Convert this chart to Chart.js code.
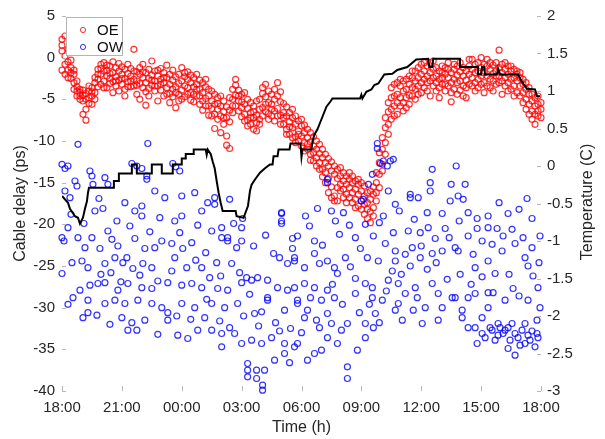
<!DOCTYPE html>
<html>
<head>
<meta charset="utf-8">
<script src="https://cdn.jsdelivr.net/npm/chart.js@4.4.0/dist/chart.umd.min.js"></script>
<style>
  html, body { margin: 0; padding: 0; background: #fff; }
</style>
</head>
<body>
<canvas id="chart" width="605" height="439"></canvas>
<script>
// x axis: hours since 18:00
const timeLabels = ['18:00', '21:00', '00:00', '03:00', '06:00', '09:00', '12:00', '15:00', '18:00'];

// OE cable delay (ps): sample times and the values read at each time
const oeTime = [0.00, 0.15, 0.30, 0.45, 0.60, 0.75, 0.90, 1.05, 1.20, 1.35, 1.50, 1.65, 1.80, 1.95,
  2.10, 2.25, 2.40, 2.55, 2.70, 2.85, 3.00, 3.15, 3.30, 3.45, 3.60, 3.75, 3.90, 4.05, 4.20, 4.35,
  4.50, 4.65, 4.80, 4.95, 5.10, 5.25, 5.40, 5.55, 5.70, 5.85, 6.00, 6.15, 6.30, 6.45, 6.60, 6.75,
  6.90, 7.05, 7.20, 7.35, 7.50, 7.65, 7.80, 7.95, 8.10, 8.25, 8.40, 8.55, 8.70, 8.85, 9.00, 9.15,
  9.30, 9.45, 9.60, 9.75, 9.90, 10.05, 10.20, 10.35, 10.50, 10.65, 10.80, 10.95, 11.10, 11.25,
  11.40, 11.55, 11.70, 11.85, 12.00, 12.15, 12.30, 12.45, 12.60, 12.75, 12.90, 13.05, 13.20, 13.35,
  13.50, 13.65, 13.80, 13.95, 14.10, 14.25, 14.40, 14.55, 14.70, 14.85, 15.00, 15.15, 15.30, 15.45,
  15.60, 15.75, 15.90, 16.05, 16.20, 16.35, 16.50, 16.65, 16.80, 16.95, 17.10, 17.25, 17.40, 17.55,
  17.70, 17.85, 18.00, 18.15, 18.30, 18.45, 18.60, 18.75, 18.90, 19.05, 19.20, 19.35, 19.50, 19.65,
  19.80, 19.95, 20.10, 20.25, 20.40, 20.55, 20.70, 20.85, 21.00, 21.15, 21.30, 21.45, 21.60, 21.75,
  21.90, 22.05, 22.20, 22.35, 22.50, 22.65, 22.80, 22.95, 23.10, 23.25, 23.40, 23.55, 23.70, 23.85, 24.00];
const oeDelay = [
  [2.2, 0.8, -1.5, 1.5], [2.6, 0.2, -0.8, -2.0], [1.0, -0.5, -1.5, -2.4], [-1.2, -2.5, -0.3, -1.8],
  [-2.0, -3.0, -1.5, -3.8], [-4.0, -3.5, -4.6, -2.8], [-4.2, -5.0, -3.8, -4.6], [-4.5, -6.8, -5.2, -3.9],
  [-7.5, -6.2, -4.3, -5.0], [-4.0, -5.5, -4.8, -3.4], [-3.6, -4.6, -5.6, -4.1], [-3.0, -4.2, -2.4, -5.0],
  [-1.4, -2.6, -3.5, -2.0], [-0.8, -2.0, -3.2, -1.3], [-1.6, -2.8, -0.6, -3.6], [-2.2, -0.9, -3.6, -1.5],
  [-1.0, -2.5, -3.1, -1.9], [-1.8, -0.5, -2.9, -4.2], [-2.3, -1.2, -3.4, -2.8], [-1.6, -2.7, -0.7, -4.0],
  [-2.0, -3.2, -1.1, -2.5], [-2.5, -1.4, -3.8, -4.6], [-1.9, -0.8, -2.9, -3.5], [-2.2, -3.5, -1.3, -2.8],
  [-1.6, 1.0, -2.6, -3.4], [-2.8, -1.7, -4.4, -3.3], [-2.0, -3.1, -5.0, -1.2], [-2.4, -3.6, -0.8, -1.7],
  [-3.0, -1.8, -5.7, -4.1], [-2.5, -3.7, -1.4, -4.6], [-2.1, -0.4, -3.3, -2.7], [-2.8, -4.0, -1.6, -3.4],
  [-3.4, -2.2, -5.2, -1.5], [-2.6, -1.3, -3.9, -3.2], [-1.8, -3.0, -4.6, -2.4], [-2.4, -0.9, -3.6, -4.4],
  [-3.2, -2.0, -5.4, -4.3], [-2.7, -1.5, -3.8, -4.7], [-3.5, -2.3, -6.0, -4.2], [-2.0, -3.1, -4.4, -5.2],
  [-2.8, -1.2, -3.9, -5.0], [-2.3, -3.4, -4.7, -1.8], [-2.6, -1.7, -3.6, -4.4], [-3.0, -2.1, -4.2, -5.1],
  [-2.4, -3.5, -5.3, -4.4], [-3.2, -2.0, -4.6, -3.8], [-3.8, -2.7, -5.6, -4.6], [-4.2, -3.0, -6.3, -5.2],
  [-3.5, -4.9, -2.6, -5.8], [-4.6, -5.8, -3.8, -6.9], [-5.2, -4.0, -7.0, -6.1], [-5.6, -6.8, -4.4, -8.5],
  [-4.8, -6.2, -7.4, -5.5], [-5.8, -7.0, -4.6, -9.0], [-6.5, -5.2, -8.0, -7.2], [-5.9, -7.2, -10.5, -9.4],
  [-6.3, -4.8, -7.7, -10.9], [-5.0, -6.6, -3.8, -5.8], [-3.3, -4.5, -5.8, -2.6], [-3.9, -5.2, -6.4, -4.6],
  [-4.4, -6.0, -7.1, -5.3], [-5.6, -6.8, -4.2, -7.6], [-6.1, -5.0, -7.5, -8.2], [-6.6, -8.0, -5.4, -7.2],
  [-5.8, -7.2, -6.5, -8.6], [-6.9, -5.2, -7.8, -8.8], [-5.0, -7.4, -6.2, -8.0], [-4.3, -6.0, -3.6, -7.0],
  [-3.2, -4.7, -5.6, -6.5], [-4.0, -5.4, -6.7, -7.4], [-5.6, -4.4, -7.0, -6.2], [-5.0, -6.4, -3.8, -7.6],
  [-3.0, -4.6, -6.1, -7.0], [-5.3, -6.9, -4.1, -8.0], [-6.6, -5.5, -8.0, -7.2], [-7.0, -5.9, -8.6, -9.2],
  [-6.6, -7.7, -9.2, -8.3], [-7.2, -8.4, -6.2, -9.6], [-8.0, -7.0, -9.5, -10.2], [-7.6, -8.8, -10.0, -9.2],
  [-8.2, -9.4, -7.4, -10.6], [-9.0, -10.2, -8.1, -11.2], [-9.6, -8.6, -11.0, -10.4], [-10.1, -9.0, -11.6, -12.3],
  [-10.6, -9.5, -11.4, -12.4], [-11.0, -10.0, -12.0, -13.0], [-11.5, -12.6, -10.4, -13.4], [-12.0, -11.0, -13.4, -14.3],
  [-12.6, -13.8, -11.6, -15.0], [-13.0, -14.5, -12.1, -16.2], [-13.6, -15.5, -12.5, -16.8], [-14.0, -16.6, -13.0, -17.2],
  [-14.5, -17.2, -13.4, -15.6], [-14.2, -15.2, -16.0, -13.2], [-14.8, -13.8, -15.8, -16.8], [-15.2, -14.2, -16.4, -17.4],
  [-15.6, -14.6, -16.8, -13.8], [-15.0, -16.2, -17.4, -14.2], [-15.8, -14.8, -17.0, -18.0], [-16.4, -15.2, -17.8, -14.6],
  [-16.0, -17.2, -18.2, -15.0], [-16.6, -15.4, -18.8, -17.6], [-17.4, -16.2, -19.3, -18.2], [-17.0, -18.5, -19.8, -16.0],
  [-16.4, -18.0, -15.5, -19.0], [-15.0, -13.8, -17.2, -16.2], [-12.6, -14.0, -11.4, -15.6], [-11.0, -9.6, -12.8, -13.6],
  [-8.4, -10.2, -7.2, -11.6], [-6.5, -8.0, -5.4, -9.2], [-4.8, -6.2, -3.6, -7.4], [-3.2, -4.6, -5.8, -7.0],
  [-3.0, -4.4, -6.8, -5.4], [-3.4, -4.8, -5.8, -2.6], [-2.8, -4.0, -5.4, -6.4], [-3.8, -2.6, -6.0, -4.8],
  [-3.2, -4.5, -2.2, -5.6], [-2.4, -3.6, -4.6, -1.6], [-1.6, -2.8, -3.8, -5.0], [-1.2, -2.4, -3.4, -4.4],
  [-2.0, -0.8, -3.0, -4.2], [-1.6, -2.6, -3.6, -0.6], [-1.0, -2.2, -3.0, -4.0], [-1.8, -2.8, -0.6, -4.6],
  [-1.4, -2.4, -3.4, -0.4], [-2.2, -1.2, -3.0, -4.0], [-1.6, -2.6, -4.8, -3.6], [-2.4, -1.0, -1.8, -3.2],
  [-2.0, -3.2, -4.0, -1.2], [-1.4, -2.4, -3.4, -0.6], [-1.8, -3.0, -5.3, -4.2], [-2.6, -1.4, -3.8, -0.8],
  [-2.1, -3.0, -1.0, -4.4], [-2.8, -1.7, -3.9, -0.6], [-2.2, -3.4, -1.2, -4.6], [-1.6, -2.7, -4.8, -3.6],
  [-1.0, -2.0, -3.2, -0.2], [-1.4, -0.2, -2.4, -3.4], [-0.8, -1.8, -3.0, -4.0], [-1.6, -0.6, -2.6, -3.6],
  [-1.2, 0.0, -2.2, -3.2], [-1.8, -0.8, -3.0, -4.2], [-1.0, -2.2, -0.2, -3.4], [-1.4, -2.6, -3.6, -0.6],
  [-0.9, -1.9, -2.8, -4.0], [-1.6, -0.6, -3.2, -2.2], [0.9, -1.2, -2.2, -3.0], [-1.8, -0.8, -2.8, -4.4],
  [-1.4, -2.4, -3.4, -0.6], [-2.0, -1.0, -3.0, -4.0], [-1.6, -2.6, -3.8, -1.0], [-2.4, -1.4, -3.4, -4.6],
  [-2.8, -2.0, -4.2, -1.6], [-2.4, -3.4, -4.6, -1.8], [-3.2, -4.2, -5.4, -2.6], [-3.8, -5.0, -6.2, -3.0],
  [-4.4, -5.6, -6.8, -3.6], [-5.2, -6.4, -7.4, -4.4], [-5.8, -6.8, -8.0, -4.8], [-5.6, -7.0, -4.6, -6.4],
  [-6.2, -7.2, -5.4]
];

// OW cable delay (ps): [hour, value]
const owPoints = [
  [0.8, -10.4], [4.3, -10.3], [0.0, -12.8], [0.15, -13.3], [0.3, -13.0], [1.4, -13.6], [1.5, -14.2], [1.55, -15.2],
  [0.65, -14.8], [0.75, -15.4], [2.15, -14.4], [2.3, -15.2], [3.5, -12.7], [3.75, -13.0], [4.0, -13.3], [4.25, -14.2],
  [4.25, -14.6], [4.65, -16.0], [5.55, -12.7], [5.7, -13.1], [5.9, -13.6], [6.65, -16.2], [6.0, -16.6], [7.3, -17.4],
  [0.15, -16.0], [0.4, -16.8], [1.65, -18.4], [2.05, -18.1], [2.75, -19.6], [3.15, -17.4], [3.65, -18.4], [4.0, -17.8],
  [4.0, -19.0], [5.15, -16.8], [5.65, -19.6], [6.0, -19.0], [7.0, -18.4], [8.0, -20.4], [8.3, -21.6], [9.0, -20.4],
  [9.0, -22.0], [11.0, -18.6], [11.0, -19.6], [11.55, -21.7], [11.55, -22.9], [0.0, -21.6], [0.1, -22.0], [0.3, -20.4],
  [0.8, -21.6], [1.15, -22.8], [1.5, -21.6], [1.9, -22.9], [2.3, -20.8], [2.8, -22.6], [3.25, -24.0], [3.65, -21.7],
  [4.15, -22.9], [4.65, -22.8], [5.0, -22.0], [5.5, -22.3], [5.65, -24.0], [6.05, -22.9], [6.5, -22.2], [7.0, -25.2],
  [7.5, -20.8], [8.0, -21.6], [8.3, -22.0], [8.75, -22.8], [0.0, -25.9], [0.5, -24.6], [1.0, -24.4], [1.3, -25.2],
  [2.15, -24.7], [2.65, -24.0], [3.05, -24.6], [3.55, -25.3], [4.05, -24.7], [4.5, -25.2], [6.25, -25.2], [7.75, -24.6],
  [8.5, -24.7], [9.25, -26.4], [9.8, -26.4], [10.3, -26.7], [10.9, -24.0], [11.3, -24.7], [11.65, -24.4], [0.9, -27.9],
  [1.4, -27.3], [1.8, -27.1], [2.15, -27.0], [2.8, -27.9], [3.3, -27.1], [4.0, -27.6], [4.5, -27.7], [5.3, -27.0],
  [6.0, -27.3], [6.5, -27.1], [7.0, -27.6], [7.4, -26.4], [7.8, -27.7], [8.3, -27.9], [9.0, -27.0], [9.5, -26.7],
  [10.3, -28.8], [10.8, -27.6], [11.3, -27.9], [1.3, -29.1], [2.15, -29.5], [2.65, -29.1], [3.15, -29.5], [3.8, -29.1],
  [4.5, -29.5], [5.0, -30.0], [5.3, -30.6], [6.0, -29.5], [6.65, -30.0], [7.5, -29.5], [8.15, -30.0], [8.8, -29.5],
  [9.65, -30.7], [10.3, -29.1], [11.15, -30.3], [11.8, -29.5], [1.3, -30.6], [1.75, -30.9], [3.0, -31.2], [3.5, -31.8],
  [3.75, -32.7], [3.3, -32.7], [4.15, -31.5], [5.3, -31.5], [5.8, -33.3], [6.3, -33.7], [6.8, -32.7], [7.5, -32.7],
  [8.0, -33.1], [8.65, -33.1], [9.0, -34.3], [8.0, -34.7], [9.5, -33.9], [10.0, -34.3], [10.5, -33.6], [11.15, -34.3],
  [11.65, -34.7], [9.3, -36.7], [9.3, -37.5], [9.3, -38.3], [9.75, -37.5], [9.75, -38.5], [10.15, -37.5], [10.05, -39.3],
  [10.05, -39.9], [10.65, -36.3], [11.15, -35.5],
  [18.55, -13.4], [19.75, -13.0], [18.45, -15.0], [18.45, -16.0], [19.5, -15.2], [20.2, -15.2], [13.3, -15.0], [12.8, -18.1],
  [13.5, -18.4], [14.1, -18.6], [13.7, -19.6], [15.0, -17.2], [16.1, -19.0], [16.7, -17.6], [16.9, -18.4], [17.45, -16.8],
  [17.85, -16.8], [18.3, -18.6], [19.05, -18.7], [19.45, -17.2], [19.85, -16.6], [20.35, -18.6], [20.8, -19.3], [21.35, -19.0],
  [22.35, -18.7], [23.55, -19.3], [11.8, -21.4], [12.65, -22.0], [12.65, -23.5], [13.3, -24.4], [14.2, -24.0], [14.7, -21.6],
  [14.95, -22.9], [15.6, -21.4], [16.2, -22.3], [16.7, -23.2], [17.35, -20.8], [17.55, -22.8], [17.95, -21.0], [18.35, -20.4],
  [18.7, -21.7], [19.2, -20.5], [19.7, -22.8], [20.35, -21.4], [20.8, -20.5], [21.05, -22.0], [21.35, -20.4], [21.8, -20.5],
  [22.1, -21.4], [22.7, -22.3], [23.55, -22.8], [11.65, -24.0], [12.15, -25.2], [12.9, -24.7], [13.65, -25.2], [15.3, -24.0],
  [15.85, -24.4], [16.7, -24.4], [17.45, -25.0], [17.95, -24.0], [18.55, -23.5], [19.05, -23.2], [19.85, -23.2], [20.7, -25.2],
  [21.35, -24.4], [22.05, -23.2], [23.2, -24.0], [23.35, -25.0], [11.65, -27.6], [12.15, -27.1], [12.65, -27.6], [13.3, -27.9],
  [13.8, -25.9], [14.7, -26.5], [15.2, -27.1], [15.55, -27.6], [16.35, -26.7], [16.85, -27.1], [17.2, -28.3], [17.7, -27.6],
  [18.55, -27.1], [18.85, -28.3], [19.7, -28.8], [20.35, -28.8], [20.7, -28.3], [21.35, -28.2], [21.7, -25.9], [22.2, -29.1],
  [22.6, -27.7], [23.35, -29.1], [23.85, -27.6], [11.8, -29.1], [12.3, -30.3], [13.0, -29.1], [13.65, -28.8], [14.7, -28.3],
  [15.55, -28.8], [16.05, -29.1], [16.85, -29.5], [17.6, -30.3], [18.2, -30.0], [19.05, -30.0], [19.55, -28.8], [20.05, -30.3],
  [17.05, -31.5], [18.05, -31.9], [18.85, -31.5], [12.15, -31.2], [12.75, -31.5], [13.3, -30.7], [13.5, -31.9], [14.0, -32.7],
  [14.3, -31.9], [15.2, -31.9], [15.7, -30.7], [16.7, -30.3], [11.8, -34.3], [12.3, -36.3], [12.65, -35.5], [13.0, -35.1],
  [13.3, -33.6], [13.8, -34.3], [14.3, -37.1], [14.3, -38.5], [14.8, -35.1], [15.2, -33.6], [15.6, -32.4],
  [20.7, -32.4], [20.8, -34.3], [21.05, -33.1], [21.2, -33.6], [21.45, -32.4], [21.55, -32.7], [21.7, -33.9], [21.85, -33.3],
  [21.95, -32.4], [22.1, -33.1], [22.2, -32.7], [22.35, -32.4], [22.45, -33.9], [22.55, -31.9], [22.7, -33.1], [22.85, -33.6],
  [22.95, -34.5], [23.05, -32.7], [23.2, -34.3], [23.35, -33.3], [23.45, -33.9], [23.55, -32.8], [23.7, -34.7], [23.8, -33.1],
  [23.85, -33.6], [22.7, -35.7], [22.35, -34.9], [20.05, -31.2], [20.35, -32.4], [21.05, -31.2], [21.35, -30.0], [21.85, -31.9],
  [23.2, -31.9], [23.8, -31.5],
  [7.65, -16.8], [7.65, -17.6], [8.4, -17.0], [9.05, -19.3], [11.0, -18.7], [11.0, -19.9], [13.3, -14.6], [15.8, -10.3],
  [15.8, -10.9], [16.1, -12.4], [16.45, -12.4], [15.35, -15.2], [15.55, -14.0], [15.1, -17.0], [16.35, -16.0], [17.45, -16.4],
  [15.95, -12.7], [16.3, -13.0], [16.6, -12.2],
  [0.45, -18.8], [1.1, -19.9], [1.85, -16.9], [2.5, -21.8], [3.4, -20.2], [4.4, -20.9], [4.9, -19.2], [5.9, -21.0],
  [6.8, -20.1], [7.2, -23.4], [8.6, -19.9], [9.6, -22.6], [10.2, -21.3], [10.6, -23.5], [0.55, -28.8], [1.05, -31.2],
  [1.95, -26.0], [2.45, -25.8], [2.95, -26.9], [3.9, -26.1], [4.8, -26.8], [5.5, -25.6], [6.7, -24.3], [7.25, -29.0],
  [7.95, -26.2], [8.9, -25.8], [9.4, -28.4], [10.0, -30.5], [10.7, -31.8], [11.45, -32.5], [0.3, -29.6], [2.4, -32.0],
  [4.8, -33.2], [5.75, -31.0], [6.45, -31.4], [7.15, -31.2], [7.9, -31.6], [8.4, -32.4], [9.1, -31.0], [9.85, -32.2],
  [10.9, -32.8], [11.4, -36.6], [12.0, -33.0], [12.45, -28.8], [12.9, -32.4], [13.55, -27.2], [14.05, -29.6], [14.45, -25.1],
  [14.9, -30.6], [15.4, -29.6], [15.9, -31.8], [16.25, -28.0], [16.55, -25.6], [17.0, -26.0], [17.8, -28.8], [18.3, -25.4],
  [18.75, -24.6], [19.3, -26.6], [19.95, -26.0], [20.5, -27.2], [21.05, -26.3], [21.6, -28.2], [22.4, -26.0], [22.9, -28.6],
  [23.6, -26.2], [23.95, -30.0], [12.4, -20.2], [13.05, -22.5], [13.9, -21.2], [14.4, -20.1], [15.2, -20.0], [15.9, -19.8],
  [16.6, -21.0], [17.2, -23.6], [18.0, -22.6], [19.4, -21.6], [19.9, -19.6], [20.6, -23.6], [21.55, -22.4], [22.55, -20.6],
  [23.1, -21.6], [23.9, -24.6], [23.95, -21.4], [12.2, -19.0], [17.65, -19.4], [21.9, -17.4], [20.1, -17.0], [22.9, -18.2],
  [23.3, -16.9]
];

// temperature (C), stepped trace
const tempTime = [0.00, 0.30, 0.40, 0.55, 0.65, 0.80, 0.90, 1.05, 1.15, 1.25, 1.30, 1.35, 2.60, 2.60, 2.85, 2.85,
  3.50, 3.50, 3.75, 3.75, 4.50, 4.50, 5.00, 5.00, 5.55, 5.55, 6.00, 6.00, 6.20, 6.20, 6.60, 6.60, 7.20, 7.25,
  7.30, 7.45, 7.55, 7.65, 7.75, 7.85, 7.95, 8.05, 8.70, 8.75, 9.10, 9.17, 9.32, 9.42, 9.50, 9.67, 9.92, 10.17,
  10.42, 10.55, 10.60, 10.80, 10.85, 11.40, 11.45, 11.95, 12.00, 12.05, 12.50, 12.55, 12.65, 12.80, 12.95,
  13.10, 13.25, 13.45, 13.55, 14.93, 15.00, 15.05, 15.25, 15.50, 15.65, 15.85, 16.15, 16.55, 16.80, 17.30,
  17.75, 18.35, 18.40, 18.55, 18.60, 19.94, 19.94, 20.84, 20.84, 21.00, 21.05, 21.15, 21.20, 21.80, 21.85,
  21.95, 22.85, 23.05, 23.30, 23.70, 23.80, 23.95];
const tempValue = [-0.40, -0.49, -0.57, -0.63, -0.67, -0.69, -0.77, -0.69, -0.57, -0.47, -0.36, -0.29, -0.29, -0.20,
  -0.20, -0.10, -0.10, 0.02, 0.02, -0.10, -0.10, 0.02, 0.02, -0.10, -0.10, 0.02, 0.02, 0.10, 0.10, 0.16, 0.16,
  0.22, 0.22, 0.15, 0.22, 0.16, 0.06, -0.03, -0.20, -0.36, -0.49, -0.60, -0.60, -0.67, -0.69, -0.64, -0.53,
  -0.33, -0.25, -0.18, -0.09, -0.03, 0.02, 0.02, 0.13, 0.13, 0.22, 0.22, 0.30, 0.30, 0.12, 0.22, 0.22, 0.33,
  0.42, 0.49, 0.59, 0.69, 0.79, 0.86, 0.90, 0.90, 0.95, 0.90, 0.99, 1.02, 1.08, 1.10, 1.22, 1.23, 1.28, 1.32,
  1.42, 1.43, 1.32, 1.32, 1.43, 1.43, 1.32, 1.32, 1.22, 1.22, 1.32, 1.32, 1.22, 1.22, 1.30, 1.22, 1.22, 1.12,
  1.03, 1.02, 0.93, 0.93];

const textColor = '#262626';
const fontFamily = '"Liberation Sans", Arial, Helvetica, sans-serif';

const oeData = [];
oeTime.forEach(function(t, i) {
    oeDelay[i].forEach(function(v) { oeData.push({ x: t, y: v }); });
});
const owData = owPoints.map(function(p) { return { x: p[0], y: p[1] }; });
const tempData = tempTime.map(function(t, i) { return { x: t, y: tempValue[i] }; });

// tick marks inside the plot, legend box and right axis title
const decorations = {
    id: 'decorations',
    afterDatasetsDraw: function(chart) {
        const ctx = chart.ctx;
        const area = chart.chartArea;
        const sx = chart.scales.x, sy = chart.scales.y, sy2 = chart.scales.y2;
        ctx.save();
        ctx.strokeStyle = '#b8b8b8';
        ctx.lineWidth = 1;
        ctx.beginPath();
        sx.ticks.forEach(function(t) {
            const px = Math.round(sx.getPixelForValue(t.value)) + 0.5;
            ctx.moveTo(px, area.bottom);
            ctx.lineTo(px, area.bottom - 5);
        });
        sy.ticks.forEach(function(t) {
            const py = Math.round(sy.getPixelForValue(t.value)) + 0.5;
            ctx.moveTo(area.left, py);
            ctx.lineTo(area.left + 4, py);
        });
        sy2.ticks.forEach(function(t) {
            const py = Math.round(sy2.getPixelForValue(t.value)) + 0.5;
            ctx.moveTo(area.right - 4, py);
            ctx.lineTo(area.right, py);
        });
        ctx.stroke();

        // legend
        ctx.fillStyle = '#fff';
        ctx.fillRect(66.5, 17.5, 56, 38);
        ctx.strokeStyle = '#b4b4b4';
        ctx.strokeRect(66.5, 17.5, 56, 38);
        ctx.font = '15px ' + fontFamily;
        ctx.textBaseline = 'middle';
        ctx.textAlign = 'left';
        [0, 1].forEach(function(i) {
            const ds = chart.data.datasets[i];
            const cy = 30 + i * 17;
            ctx.beginPath();
            ctx.arc(83, cy, 2.6, 0, Math.PI * 2);
            ctx.strokeStyle = ds.borderColor;
            ctx.stroke();
            ctx.fillStyle = '#111';
            ctx.fillText(ds.label, 97, cy + 1);
        });

        // right axis title (reads bottom to top, like the left one)
        ctx.translate(588, 202);
        ctx.rotate(-Math.PI / 2);
        ctx.textAlign = 'center';
        ctx.fillStyle = textColor;
        ctx.font = '16px ' + fontFamily;
        ctx.fillText('Temperature (C)', 0, 0);
        ctx.restore();
    }
};

new Chart(document.getElementById('chart'), {
    type: 'scatter',
    data: {
        datasets: [
            {
                label: 'OE',
                data: oeData,
                yAxisID: 'y',
                borderColor: 'rgba(255, 0, 0, 0.8)',
                backgroundColor: 'rgba(0, 0, 0, 0)',
                borderWidth: 1.2,
                pointRadius: 3,
                clip: false,
                order: 2
            },
            {
                label: 'OW',
                data: owData,
                yAxisID: 'y',
                borderColor: 'rgba(0, 0, 255, 0.8)',
                backgroundColor: 'rgba(0, 0, 0, 0)',
                borderWidth: 1.2,
                pointRadius: 3,
                clip: false,
                order: 1
            },
            {
                label: 'Temperature',
                data: tempData,
                yAxisID: 'y2',
                showLine: true,
                borderColor: '#000',
                borderWidth: 2,
                pointRadius: 0,
                tension: 0,
                order: 0
            }
        ]
    },
    options: {
        responsive: false,
        animation: false,
        layout: { padding: { top: 14, left: 0, right: 0, bottom: 0 } },
        plugins: {
            legend: { display: false },
            tooltip: { enabled: false }
        },
        scales: {
            x: {
                type: 'linear',
                position: 'bottom',
                min: 0,
                max: 24,
                grid: { display: false, drawTicks: false },
                border: { display: false },
                ticks: {
                    stepSize: 3,
                    padding: 8,
                    maxRotation: 0,
                    autoSkip: false,
                    color: textColor,
                    font: { family: fontFamily, size: 15 },
                    callback: function(v) { return timeLabels[Math.round(v / 3)]; }
                },
                title: {
                    display: true,
                    text: 'Time (h)',
                    color: textColor,
                    font: { family: fontFamily, size: 16 },
                    padding: { top: 0, bottom: 2 }
                },
                afterFit: function(s) { s.height = 48; }
            },
            y: {
                position: 'left',
                min: -40,
                max: 5,
                grid: { display: false, drawTicks: false },
                border: { display: false },
                ticks: {
                    stepSize: 5,
                    padding: 7,
                    color: textColor,
                    font: { family: fontFamily, size: 15 }
                },
                title: {
                    display: true,
                    text: 'Cable delay (ps)',
                    color: textColor,
                    font: { family: fontFamily, size: 16 },
                    padding: { top: 11, bottom: 0 }
                },
                afterFit: function(s) { s.width = 62; }
            },
            y2: {
                position: 'right',
                min: -3,
                max: 2,
                grid: { display: false, drawTicks: false },
                border: { display: false },
                ticks: {
                    stepSize: 0.5,
                    padding: 6,
                    color: textColor,
                    font: { family: fontFamily, size: 15 },
                    callback: function(v) { return String(Math.round(v * 10) / 10); }
                },
                afterFit: function(s) { s.width = 64; }
            }
        }
    },
    plugins: [decorations]
});
</script>
</body>
</html>
